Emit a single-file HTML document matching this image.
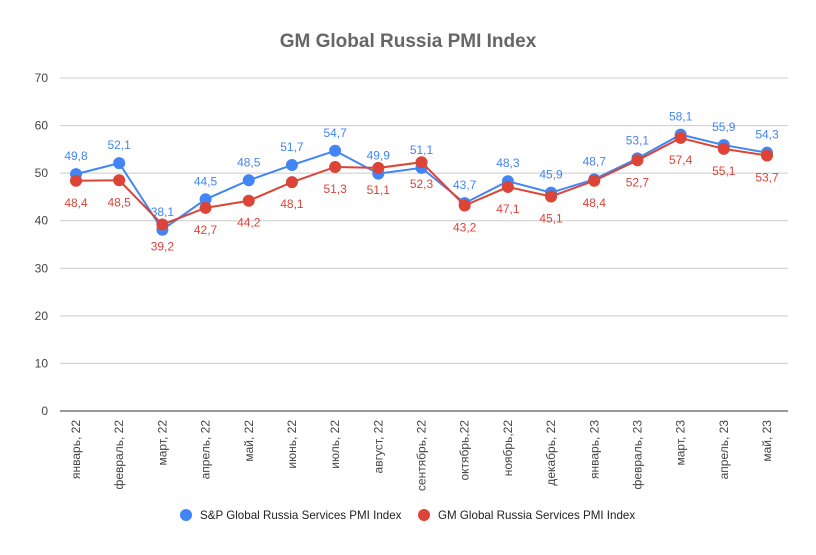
<!DOCTYPE html>
<html><head><meta charset="utf-8"><style>
body{margin:0;background:#fff;font-family:"Liberation Sans",Arial,sans-serif}
svg text{font-family:"Liberation Sans",Arial,sans-serif}
</style></head><body>
<svg id="c" width="816" height="550"></svg>
<script>
const categories=["январь, 22","февраль, 22","март, 22","апрель, 22","май, 22","июнь, 22","июль, 22","август, 22","сентябрь, 22","октябрь,22","ноябрь,22","декабрь, 22","январь, 23","февраль, 23","март, 23","апрель, 23","май, 23"];
const spValues=[49.8,52.1,38.1,44.5,48.5,51.7,54.7,49.9,51.1,43.7,48.3,45.9,48.7,53.1,58.1,55.9,54.3];
const gmValues=[48.4,48.5,39.2,42.7,44.2,48.1,51.3,51.1,52.3,43.2,47.1,45.1,48.4,52.7,57.4,55.1,53.7];
const yTicks=[0,10,20,30,40,50,60,70];
const NS="http://www.w3.org/2000/svg";
const svg=document.getElementById('c');
const x0=60,x1=788,y0=411,y1=78;
const n=categories.length, step=(767-76)/(n-1);
const xs=i=>76+i*step;
const ys=v=>y0-(v/70)*(y0-y1);
function el(t,a,txt){const e=document.createElementNS(NS,t);for(const k in a)e.setAttribute(k,a[k]);if(txt!==undefined)e.textContent=txt;svg.appendChild(e);return e;}
let t=el('text',{x:408,y:47,'text-anchor':'middle','font-size':19,'font-weight':'bold',fill:'#666'},'GM Global Russia PMI Index');


yTicks.forEach(v=>{
 const l=el('line',{x1:x0,x2:x1,y1:ys(v),y2:ys(v),stroke:v===0?'#333':'#ccc','stroke-width':1});
 
 
 const tx=el('text',{x:48,y:ys(v)+4,'text-anchor':'end','font-size':12,fill:'#444'},v);
 
 
});
categories.forEach((c,i)=>{
 const tx=el('text',{transform:`translate(${xs(i)+4},420) rotate(-90)`,'text-anchor':'end','font-size':12,fill:'#444'},c);
 
 
});
function series(vals,color,name,above){
 const p=el('polyline',{points:vals.map((v,i)=>xs(i)+','+ys(v)).join(' '),fill:'none',stroke:color,'stroke-width':2});
 
 
 vals.forEach((v,i)=>{
  const c=el('circle',{cx:xs(i),cy:ys(v),r:6,fill:color});
  
  
  const tx=el('text',{x:xs(i),y:above?ys(v)-14:ys(v)+26,'text-anchor':'middle','font-size':12,fill:color},String(v).replace('.',','));
  
  
 });
}
series(spValues,'#4285f4','sp-series',true);
series(gmValues,'#db4437','gm-series',false);
let c1=el('circle',{cx:186,cy:515,r:6,fill:'#4285f4'});


let l1=el('text',{x:200,y:519,'font-size':11.6,fill:'#222'},'S&P Global Russia Services PMI Index');


let c2=el('circle',{cx:424,cy:515,r:6,fill:'#db4437'});


let l2=el('text',{x:438,y:519,'font-size':11.6,fill:'#222'},'GM Global Russia Services PMI Index');


</script>
</body></html>
